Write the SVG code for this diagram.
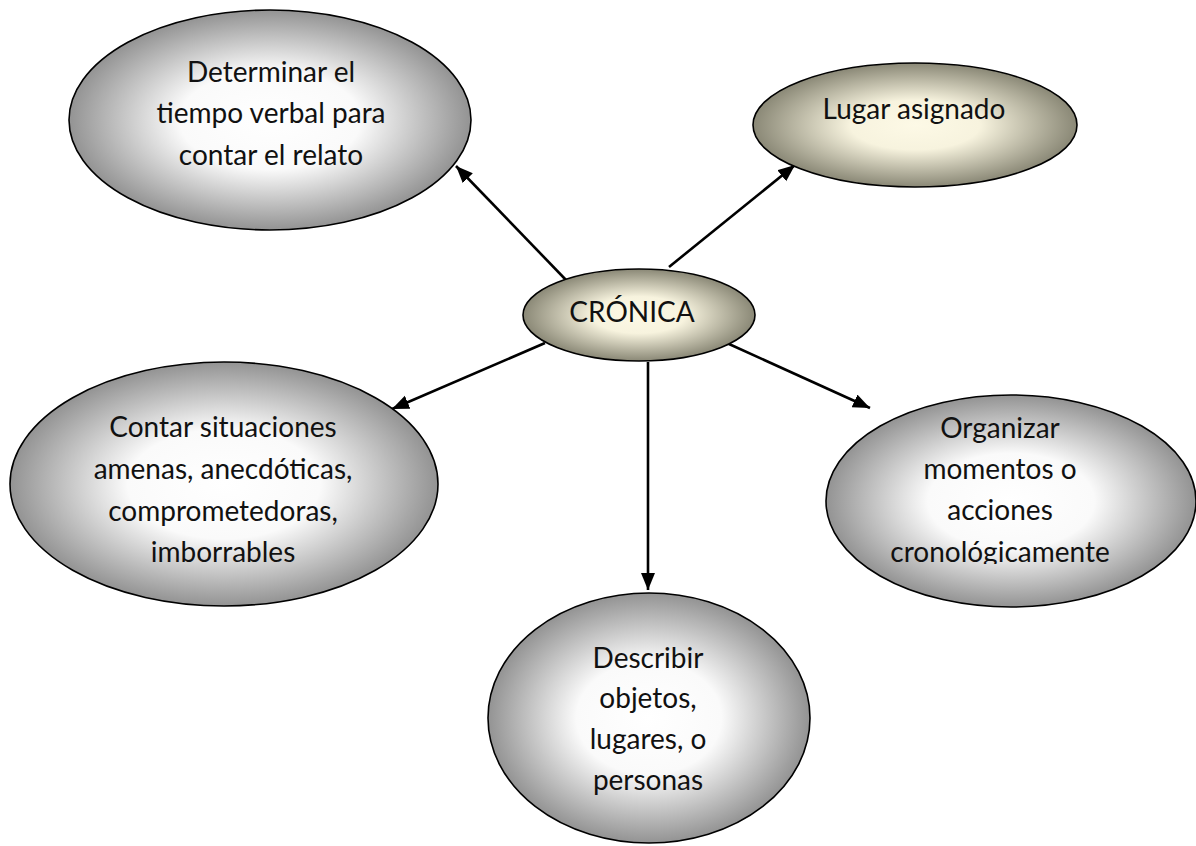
<svg xmlns="http://www.w3.org/2000/svg" width="1196" height="846" viewBox="0 0 1196 846">
  <style>
    .node { stroke: #000; stroke-width: 1.6; }
    .grey { fill: url(#greyFill); }
    .cream { fill: url(#creamFill); }
    .label { font-family: Lato, "Liberation Sans", sans-serif; font-size: 28px; fill: #111; text-anchor: middle; }
    .conn { stroke: #000; stroke-width: 2.6; fill: none; marker-end: url(#arrow); }
  </style>
  <defs>
    <radialGradient id="greyFill" cx="0.5" cy="0.5" r="0.5">
      <stop offset="0" stop-color="#ffffff"/>
      <stop offset="0.45" stop-color="#fafafa"/>
      <stop offset="1" stop-color="#939393"/>
    </radialGradient>
    <radialGradient id="creamFill" cx="0.5" cy="0.5" r="0.5">
      <stop offset="0" stop-color="#fdf9e6"/>
      <stop offset="0.4" stop-color="#f7f3de"/>
      <stop offset="1" stop-color="#8a8876"/>
    </radialGradient>
    <marker id="arrow" markerUnits="userSpaceOnUse" markerWidth="20" markerHeight="16" refX="17" refY="7" orient="auto">
      <path d="M0,0 L17,7 L0,14 Z" fill="#000"/>
    </marker>
    <!-- text box of the right-hand node cuts off the last line's descenders -->
    <clipPath id="orgClip">
      <rect x="820" y="380" width="376" height="184"/>
    </clipPath>
  </defs>

  <!-- connectors from the central node -->
  <g id="connectors">
    <line class="conn" x1="567" y1="281" x2="456" y2="166"/>
    <line class="conn" x1="669" y1="267" x2="795" y2="165"/>
    <line class="conn" x1="545" y1="343" x2="392" y2="409"/>
    <line class="conn" x1="729" y1="344" x2="870" y2="408"/>
    <line class="conn" x1="648" y1="362" x2="648" y2="590"/>
  </g>

  <g id="node-tiempo">
    <ellipse class="node grey" cx="270" cy="120" rx="201" ry="110"/>
    <text class="label" x="271" y="82">Determinar el</text>
    <text class="label" x="271" y="123">tiempo verbal para</text>
    <text class="label" x="271" y="165">contar el relato</text>
  </g>

  <g id="node-lugar">
    <ellipse class="node cream" cx="915" cy="125" rx="162" ry="62"/>
    <text class="label" x="914" y="119">Lugar asignado</text>
  </g>

  <g id="node-cronica">
    <ellipse class="node cream" cx="639" cy="315" rx="116" ry="46"/>
    <text class="label" x="632" y="322">CRÓNICA</text>
  </g>

  <g id="node-contar">
    <ellipse class="node grey" cx="224" cy="484" rx="214" ry="122"/>
    <text class="label" x="223" y="437">Contar situaciones</text>
    <text class="label" x="223" y="479">amenas, anecdóticas,</text>
    <text class="label" x="223" y="521">comprometedoras,</text>
    <text class="label" x="223" y="562">imborrables</text>
  </g>

  <g id="node-organizar">
    <ellipse class="node grey" cx="1011" cy="501" rx="185" ry="106"/>
    <g clip-path="url(#orgClip)">
      <text class="label" x="1000" y="438">Organizar</text>
      <text class="label" x="1000" y="479">momentos o</text>
      <text class="label" x="1000" y="520">acciones</text>
      <text class="label" x="1000" y="562">cronológicamente</text>
    </g>
  </g>

  <g id="node-describir">
    <ellipse class="node grey" cx="649" cy="718" rx="161" ry="125"/>
    <text class="label" x="648" y="668">Describir</text>
    <text class="label" x="648" y="708">objetos,</text>
    <text class="label" x="648" y="749">lugares, o</text>
    <text class="label" x="648" y="790">personas</text>
  </g>
</svg>
